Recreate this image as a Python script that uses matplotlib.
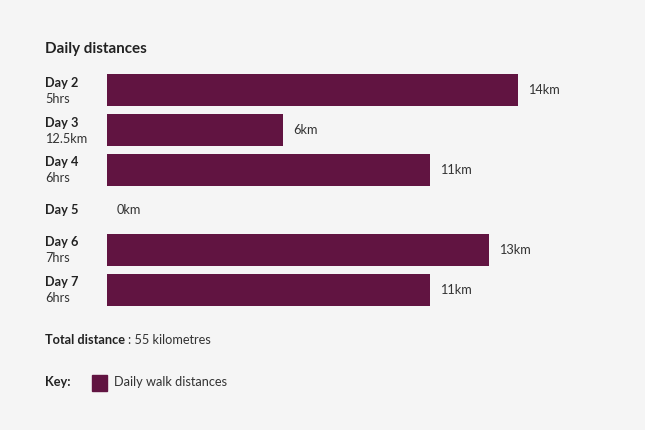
import matplotlib.pyplot as plt

plt.rcParams['font.family'] = ['Lato', 'DejaVu Sans']

days = ["Day 2", "Day 3", "Day 4", "Day 5", "Day 6", "Day 7"]
subtitles = ["5hrs", "12.5km", "6hrs", "", "7hrs", "6hrs"]
distances = [14, 6, 11, 0, 13, 11]
total_km = 55

bar_color = "#611441"
bg = "#f5f5f5"
text_color = "#222222"
fs = 9.2

fig = plt.figure(figsize=(6.45, 4.3), dpi=100, facecolor=bg)
W, H = 645, 430
ax = fig.add_axes([107 / W, 120 / H, 538 / W, 240 / H])
ax.set_facecolor(bg)

y = list(range(len(days)))
ax.barh(y, distances, height=0.78, color=bar_color)
ax.set_xlim(0, 538 / (411 / 14))
ax.set_ylim(len(days) - 0.5, -0.5)
ax.axis("off")

for i, (d, s, v) in enumerate(zip(days, subtitles, distances)):
    ax.annotate(f"{v}km", xy=(v, i), xytext=(10, 0), textcoords="offset pixels",
                ha="left", va="center", fontsize=fs, color="#333333")
    if s:
        ax.annotate(d, xy=(0, i), xytext=(-62, 7.5), textcoords="offset pixels",
                    ha="left", va="center", fontsize=fs, fontweight="bold", color=text_color)
        ax.annotate(s, xy=(0, i), xytext=(-62, -8.5), textcoords="offset pixels",
                    ha="left", va="center", fontsize=fs, color="#333333")
    else:
        ax.annotate(d, xy=(0, i), xytext=(-62, 0), textcoords="offset pixels",
                    ha="left", va="center", fontsize=fs, fontweight="bold", color=text_color)

fig.text(45 / W, 1 - 48.5 / H, "Daily distances", fontsize=10.9, fontweight="bold",
         color=text_color, ha="left", va="center")

t = fig.text(45 / W, 1 - 340 / H, "Total distance", fontsize=fs, fontweight="bold",
             color=text_color, ha="left", va="center")
fig.canvas.draw()
bb = t.get_window_extent()
fig.text((bb.x1 + 3) / W, 1 - 340 / H, f": {total_km} kilometres", fontsize=fs,
         color="#333333", ha="left", va="center")

fig.text(45 / W, 1 - 382 / H, "Key:", fontsize=fs, fontweight="bold",
         color=text_color, ha="left", va="center")
fig.patches.append(plt.Rectangle((92 / W, 1 - 391 / H), 15 / W, 16 / H,
                                 transform=fig.transFigure, color=bar_color))
fig.text(114 / W, 1 - 382 / H, "Daily walk distances", fontsize=fs,
         color="#333333", ha="left", va="center")

fig.savefig("out.png", dpi=100, facecolor=bg)
